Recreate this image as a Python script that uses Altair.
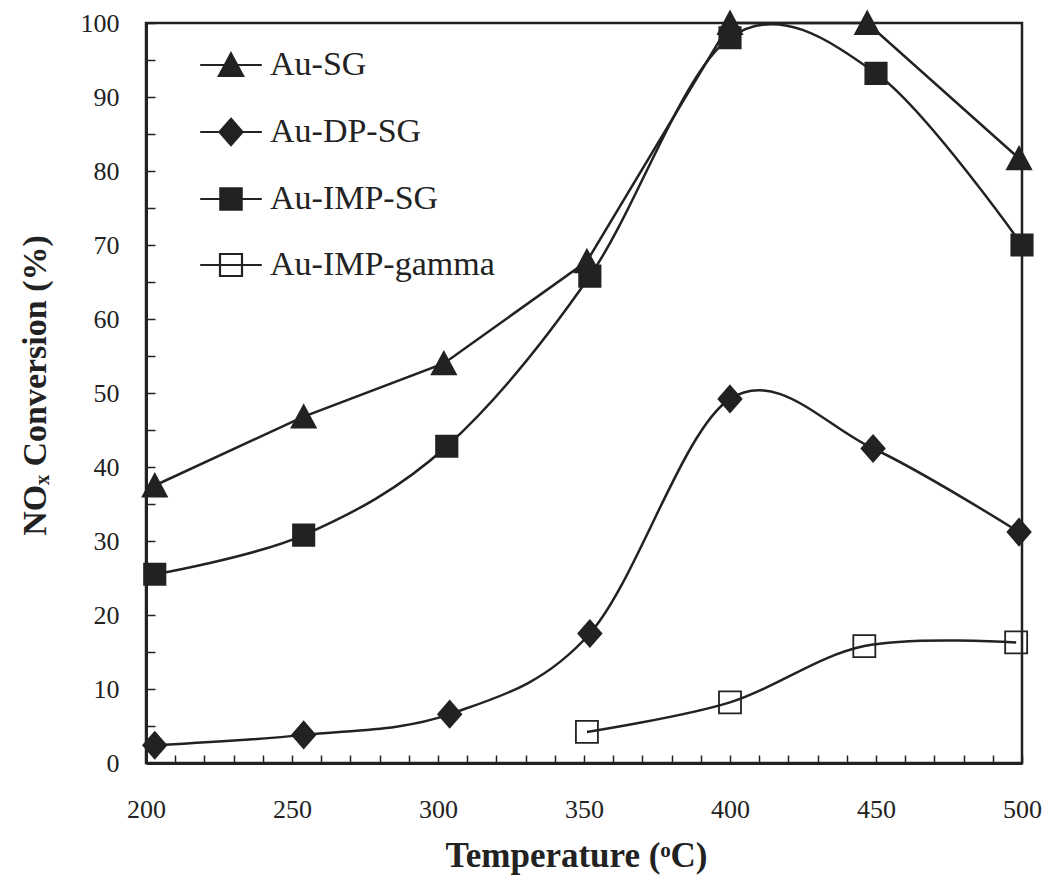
import altair as alt
import pandas as pd

# ---- data ----
series = ["Au-SG", "Au-DP-SG", "Au-IMP-SG", "Au-IMP-gamma"]

sg_temp = [203, 254, 302, 351, 400, 447, 499]
sg_conv = [37.5, 46.8, 54.0, 67.8, 100.0, 100.0, 81.7]

dp_temp = [203, 254, 304, 352, 400, 449, 499]
dp_conv = [2.4, 3.8, 6.6, 17.5, 49.2, 42.5, 31.2]

imp_temp = [203, 254, 303, 352, 400, 450, 500]
imp_conv = [25.5, 30.8, 42.8, 65.8, 98.0, 93.2, 70.0]

gam_temp = [351, 400, 446, 498]
gam_conv = [4.2, 8.2, 15.8, 16.3]

x_ticks = list(range(200, 501, 10))
y_ticks = list(range(0, 101, 5))

INK = "#222222"
FONT = "Liberation Serif"
PLOT_W = 876
PLOT_H = 740

rows = []
for name, xs, ys in [
    ("Au-SG", sg_temp, sg_conv),
    ("Au-DP-SG", dp_temp, dp_conv),
    ("Au-IMP-SG", imp_temp, imp_conv),
    ("Au-IMP-gamma", gam_temp, gam_conv),
]:
    for xv, yv in zip(xs, ys):
        rows.append({"series": name, "temp": xv, "conv": yv})
df = pd.DataFrame(rows)

marker_paths = [
    "M0,-1.05L1.1,1L-1.1,1Z",
    "M0,-1.2L1.05,0L0,1.2L-1.05,0Z",
    "M-0.97,-0.97H0.97V0.97H-0.97Z",
    "M-1,-1H1V1H-1Z",
]
legend_paths = ["M-2.8,0H2.8" + p for p in marker_paths]
fills = [INK, INK, INK, "transparent"]

x_enc = alt.X(
    "temp:Q",
    scale=alt.Scale(domain=[200, 500], nice=False, zero=False),
    axis=alt.Axis(
        values=x_ticks,
        labelExpr="datum.value % 50 == 0 ? datum.label : ''",
        ticks=False,
        grid=True,
        # grid runs from the top edge down: show only its last 8 px (inward tick)
        gridDash=[0, PLOT_H - 8, 8, 4000],
        gridColor=INK,
        gridWidth=1.5,
        gridOpacity=1,
        domainColor=INK,
        domainWidth=3,
        labelFont=FONT,
        labelFontSize=26,
        labelColor=INK,
        labelPadding=33,
        labelFlush=False,
        labelOverlap=False,
        title="Temperature (ᵒC)",
        titleFont=FONT,
        titleFontSize=35,
        titleFontWeight="bold",
        titleColor=INK,
        titleBaseline="middle",
        titleX=430,
        titleY=92,
    ),
)
y_enc = alt.Y(
    "conv:Q",
    scale=alt.Scale(domain=[0, 100], nice=False),
    axis=alt.Axis(
        values=y_ticks,
        labelExpr="datum.value % 10 == 0 ? datum.label : ''",
        ticks=False,
        grid=True,
        gridDash=[9, 4000],
        gridColor=INK,
        gridWidth=1.5,
        gridOpacity=1,
        domainColor=INK,
        domainWidth=3,
        labelFont=FONT,
        labelFontSize=26,
        labelColor=INK,
        labelPadding=27,
        labelFlush=False,
        labelOverlap=False,
        title="NOₓ Conversion (%)",
        titleFont=FONT,
        titleFontSize=34,
        titleFontWeight="bold",
        titleColor=INK,
        titleBaseline="middle",
        titleAngle=-90,
        titleX=-111,
        titleY=362,
    ),
)

base = alt.Chart(df)

line_straight = base.transform_filter(alt.datum.series == "Au-SG").mark_line(
    color=INK, strokeWidth=2.5
).encode(x=x_enc, y=y_enc, detail="series:N")

line_smooth = base.transform_filter(alt.datum.series != "Au-SG").mark_line(
    color=INK, strokeWidth=2.5, interpolate="cardinal"
).encode(x=x_enc, y=y_enc, detail="series:N")

points = base.mark_point(
    size=484, stroke=INK, strokeWidth=1.8, opacity=1
).encode(
    x=x_enc,
    y=y_enc,
    shape=alt.Shape("series:N", scale=alt.Scale(domain=series, range=marker_paths), legend=None),
    fill=alt.Fill("series:N", scale=alt.Scale(domain=series, range=fills), legend=None),
)

legend_props = dict(
    title=None,
    orient="none",
    legendX=68,
    legendY=25,
    padding=0,
    symbolSize=484,
    symbolStrokeWidth=2.2,
    symbolStrokeColor=INK,
    labelFont=FONT,
    labelFontSize=34,
    labelColor=INK,
    labelOffset=22,
    rowPadding=32,
    labelLimit=400,
)

legend_layer = base.transform_filter("false").mark_point(
    size=484, strokeWidth=2.2, opacity=1
).encode(
    x=x_enc,
    y=y_enc,
    shape=alt.Shape(
        "series:N",
        scale=alt.Scale(domain=series, range=legend_paths),
        legend=alt.Legend(**legend_props),
    ),
    fill=alt.Fill(
        "series:N",
        scale=alt.Scale(domain=series, range=fills),
        legend=alt.Legend(**legend_props),
    ),
    stroke=alt.Stroke(
        "series:N",
        scale=alt.Scale(domain=series, range=[INK, INK, INK, INK]),
        legend=alt.Legend(**legend_props),
    ),
)

chart = (
    alt.layer(line_straight, line_smooth, points, legend_layer)
    .resolve_scale(shape="independent", fill="independent", stroke="independent")
    .properties(
        width=PLOT_W,
        height=PLOT_H,
        autosize=alt.AutoSizeParams(type="none"),
        padding={"left": 146, "top": 23, "right": 22, "bottom": 127},
        background="white",
    )
    .configure_view(stroke=INK, strokeWidth=2.5)
)

chart.save("out.html", embed_options={"renderer": "svg", "actions": False})
